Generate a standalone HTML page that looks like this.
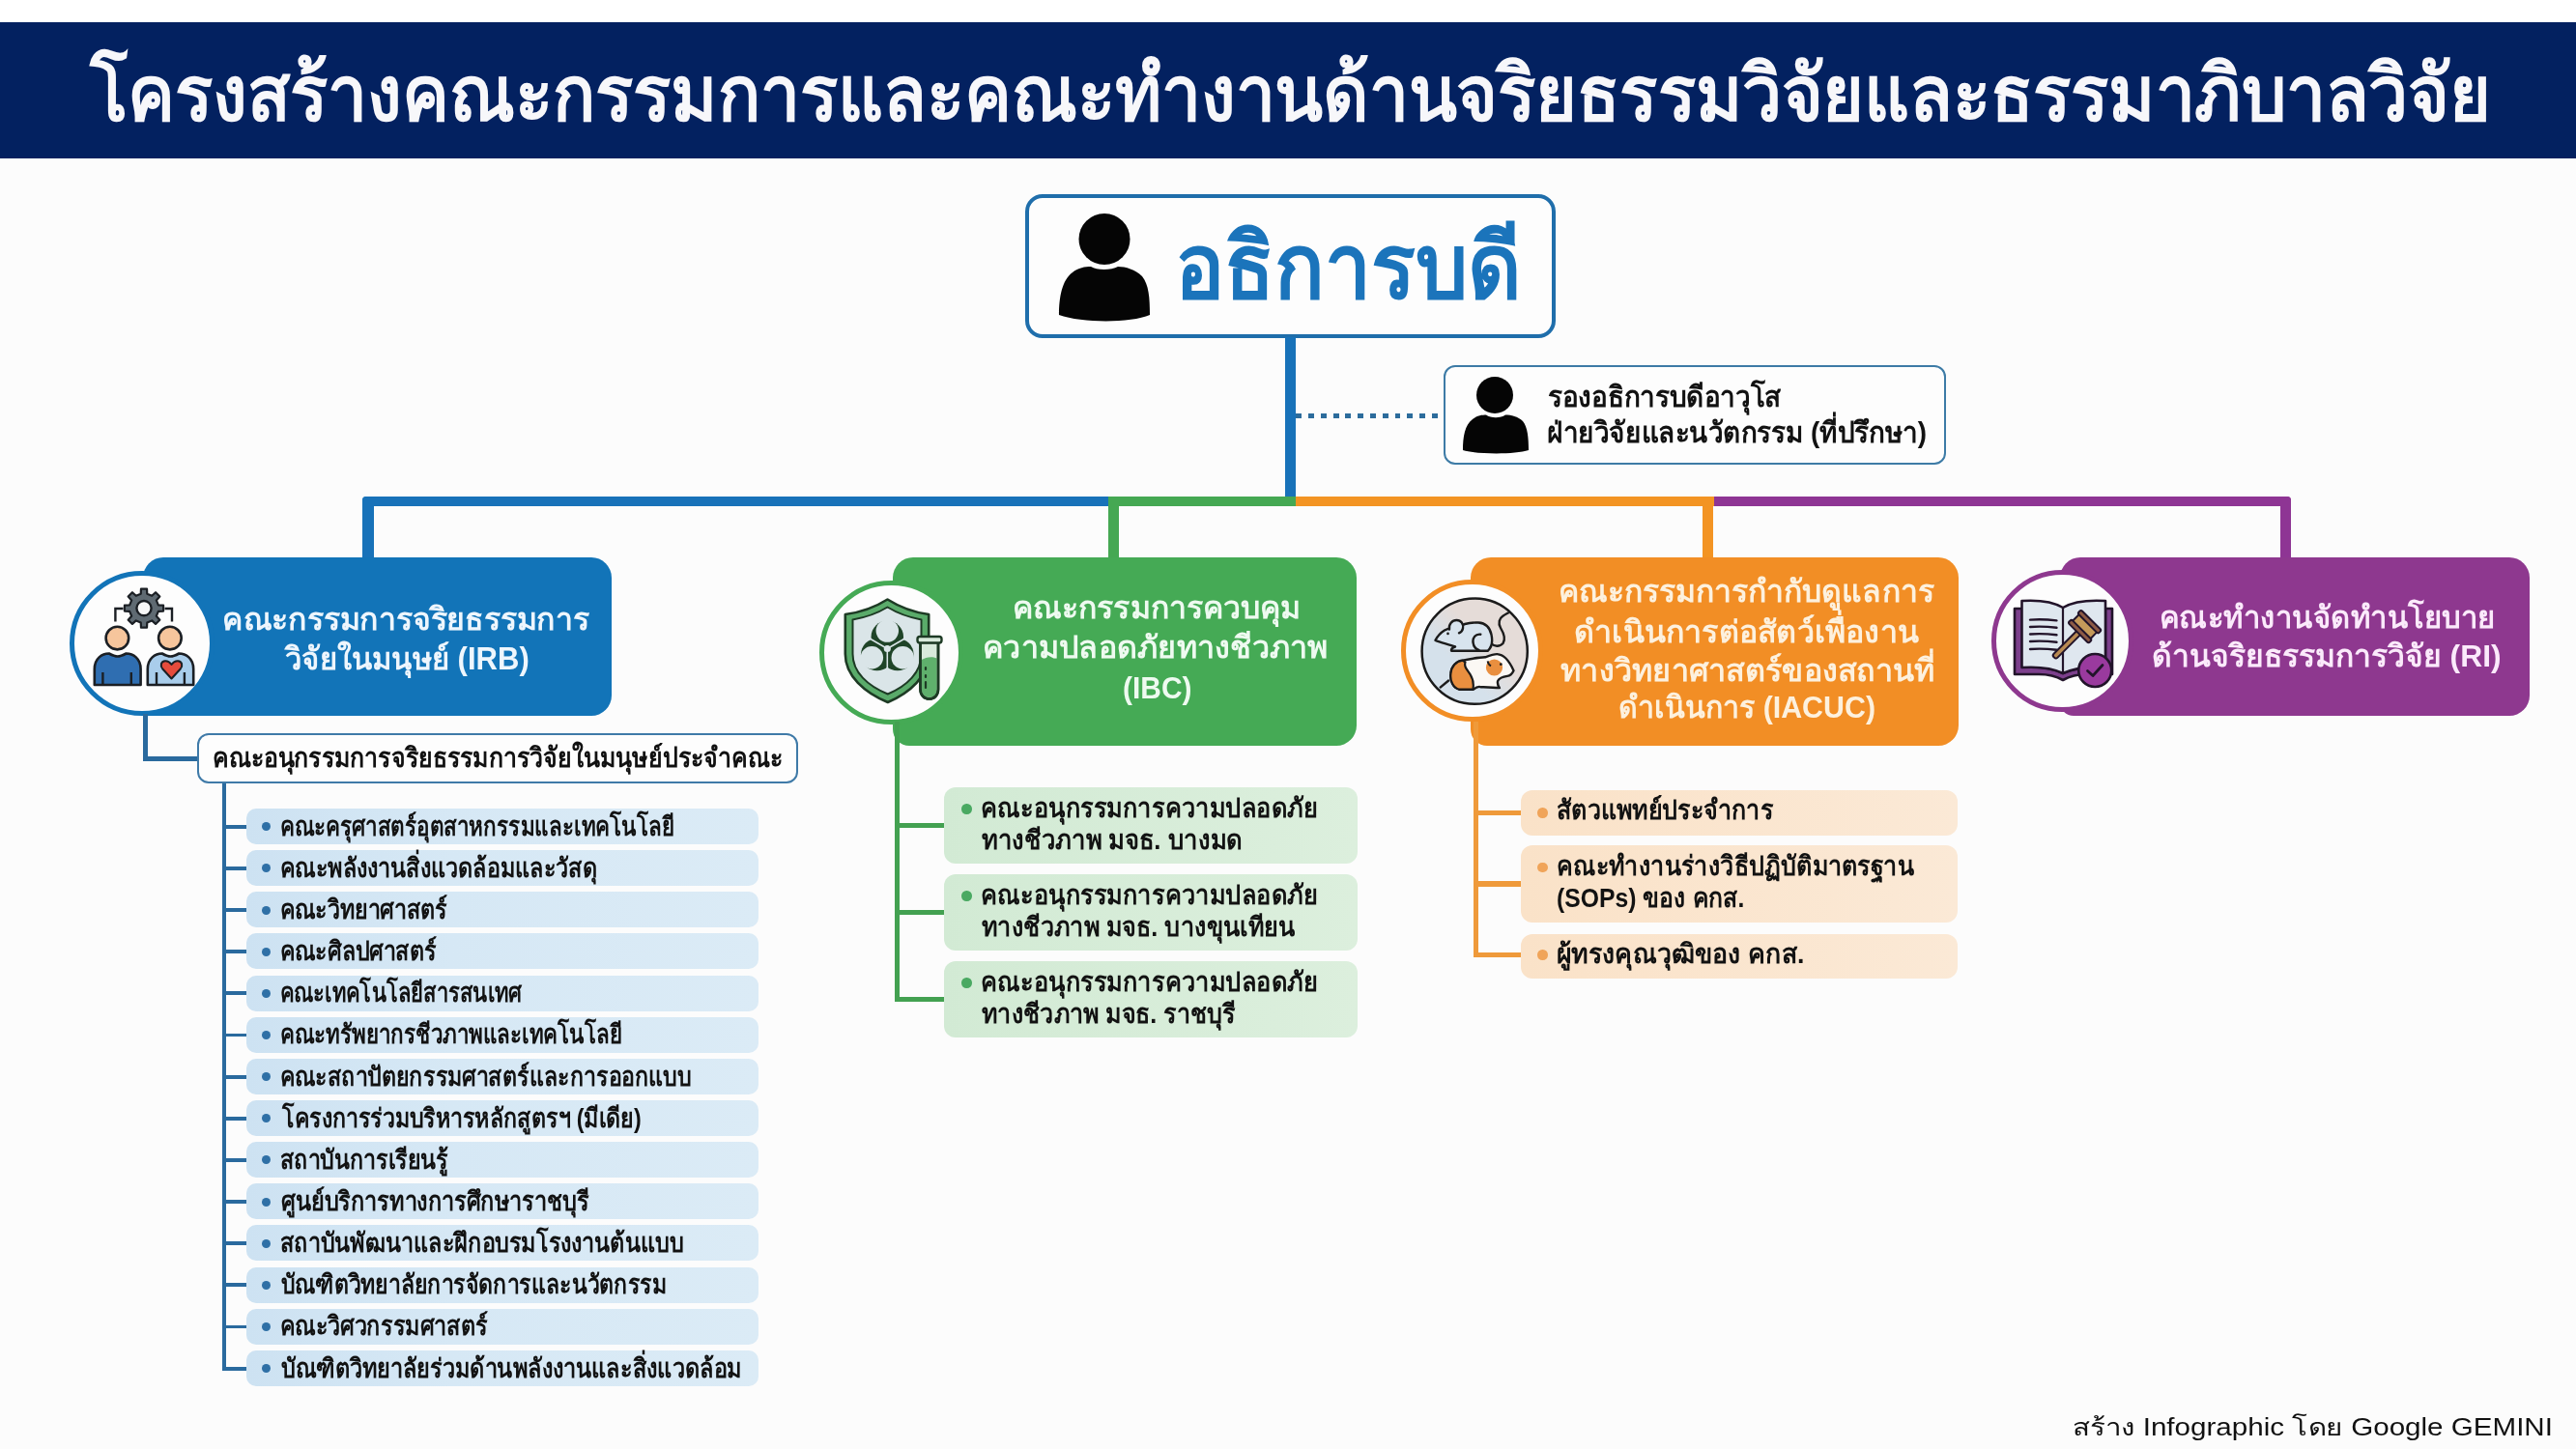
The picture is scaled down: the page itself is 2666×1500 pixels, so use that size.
<!DOCTYPE html>
<html><head><meta charset="utf-8"><style>
html,body{margin:0;padding:0;}
body{width:2666px;height:1500px;position:relative;overflow:hidden;background:#fcfcfc;font-family:'Liberation Sans', sans-serif;}
.a{position:absolute;}
.t{position:absolute;white-space:nowrap;transform-origin:0 0;}
</style></head><body>
<div class="a" style="left:0px;top:0px;width:2666px;height:23px;background:#ffffff"></div>
<div class="a" style="left:0px;top:23px;width:2666px;height:141px;background:#032160"></div>
<div class="a" style="left:1061px;top:201px;width:549px;height:149px;box-sizing:border-box;border:4px solid #1f6eab;border-radius:18px;background:#fdfdfd"></div>
<svg class="a" style="left:1090px;top:215px" width="110" height="125" viewBox="0 0 110 125"><circle cx="53" cy="32.5" r="26.5" fill="#050505"/><path d="M6 111 C6 93 9 75 20 67 C26 62 33 61 39 61 C45 65 60 65 67 61 C75 61 85 64 92 71 C99 80 100 93 100 111 C80 119.5 30 119.5 6 111 Z" fill="#050505"/></svg>
<div class="a" style="left:1330px;top:349px;width:11px;height:175px;background:#1872b9"></div>
<div class="a" style="left:1341.4px;top:427.6px;width:5.8px;height:5.6px;background:#2c6c9c"></div>
<div class="a" style="left:1354.17px;top:427.6px;width:5.8px;height:5.6px;background:#2c6c9c"></div>
<div class="a" style="left:1366.94px;top:427.6px;width:5.8px;height:5.6px;background:#2c6c9c"></div>
<div class="a" style="left:1379.71px;top:427.6px;width:5.8px;height:5.6px;background:#2c6c9c"></div>
<div class="a" style="left:1392.48px;top:427.6px;width:5.8px;height:5.6px;background:#2c6c9c"></div>
<div class="a" style="left:1405.25px;top:427.6px;width:5.8px;height:5.6px;background:#2c6c9c"></div>
<div class="a" style="left:1418.02px;top:427.6px;width:5.8px;height:5.6px;background:#2c6c9c"></div>
<div class="a" style="left:1430.79px;top:427.6px;width:5.8px;height:5.6px;background:#2c6c9c"></div>
<div class="a" style="left:1443.56px;top:427.6px;width:5.8px;height:5.6px;background:#2c6c9c"></div>
<div class="a" style="left:1456.33px;top:427.6px;width:5.8px;height:5.6px;background:#2c6c9c"></div>
<div class="a" style="left:1469.1px;top:427.6px;width:5.8px;height:5.6px;background:#2c6c9c"></div>
<div class="a" style="left:1481.87px;top:427.6px;width:5.8px;height:5.6px;background:#2c6c9c"></div>
<div class="a" style="left:1493.5px;top:378px;width:520.2px;height:103px;box-sizing:border-box;border:2.5px solid #3d7ba6;border-radius:12px;background:#fdfdfd"></div>
<svg class="a" style="left:1510px;top:385px" width="80" height="90" viewBox="0 0 80 90"><circle cx="37" cy="24" r="19" fill="#050505"/><path d="M4 81 C4 67 6 55 14 49 C19 45 24 44.5 28 44.5 C33 48 43 48 48 44.5 C54 44.5 61 46 66 51 C71 57 72 68 72 81 C58 85.5 20 85.5 4 81 Z" fill="#050505"/></svg>
<div class="a" style="left:375px;top:513.5px;width:772px;height:10.5px;background:#1872b9;border-top-left-radius:4px"></div>
<div class="a" style="left:1147px;top:513.5px;width:194px;height:10.5px;background:#45a853"></div>
<div class="a" style="left:1341px;top:513.5px;width:432.5px;height:10.5px;background:#f39423"></div>
<div class="a" style="left:1773.5px;top:513.5px;width:597.2px;height:10.5px;background:#8e3594;border-top-right-radius:4px"></div>
<div class="a" style="left:375px;top:513.5px;width:11.6px;height:66px;background:#1872b9;border-top-left-radius:4px"></div>
<div class="a" style="left:1147.3px;top:513.5px;width:10.7px;height:66px;background:#45a853"></div>
<div class="a" style="left:1762.4px;top:513.5px;width:11.1px;height:66px;background:#f39423"></div>
<div class="a" style="left:2360.4px;top:513.5px;width:10.3px;height:66px;background:#8e3594;border-top-right-radius:4px"></div>
<div class="a" style="left:147.5px;top:577px;width:485.5px;height:164px;background:#1274b8;border-radius:21px 21px 21px 0"></div>
<div class="a" style="left:924px;top:577px;width:480px;height:195px;background:#45aa55;border-radius:21px 21px 21px 17px"></div>
<div class="a" style="left:1522px;top:577px;width:505px;height:195px;background:#f28e25;border-radius:21px 21px 21px 17px"></div>
<div class="a" style="left:2132px;top:577px;width:486px;height:164px;background:#8e388f;border-radius:21px 21px 21px 14px"></div>
<div class="a" style="left:72.2px;top:590.5px;width:150px;height:150px;box-sizing:border-box;border:5.5px solid #1274b8;border-radius:50%;background:#fdfdfd"></div>
<div class="a" style="left:847.8px;top:600.5px;width:149px;height:149px;box-sizing:border-box;border:5.5px solid #45aa55;border-radius:50%;background:#fdfdfd"></div>
<div class="a" style="left:1449.7px;top:599.5px;width:147px;height:147px;box-sizing:border-box;border:5.5px solid #f28e25;border-radius:50%;background:#fdfdfd"></div>
<div class="a" style="left:2060.5px;top:589.5px;width:147px;height:147px;box-sizing:border-box;border:5.5px solid #8e388f;border-radius:50%;background:#fdfdfd"></div>
<div class="a" style="left:148px;top:739px;width:5px;height:49px;background:#2a6a9e"></div>
<div class="a" style="left:148px;top:783px;width:57px;height:5px;background:#2a6a9e"></div>
<div class="a" style="left:204px;top:758.5px;width:621.6px;height:52.5px;box-sizing:border-box;border:2.5px solid #3f7aa8;border-radius:12px;background:#fdfdfd"></div>
<div class="a" style="left:229.8px;top:811px;width:3.9px;height:608px;background:#2a6a9e"></div>
<div class="a" style="left:229.8px;top:853.9px;width:26px;height:3.8px;background:#2a6a9e"></div>
<div class="a" style="left:255px;top:837.0px;width:529.7px;height:37px;border-radius:10px;background:linear-gradient(90deg,#cde2f2 0%,#d6e8f5 40%,#dbebf6 100%)"></div>
<div class="a" style="left:270.9px;top:851.3px;width:9px;height:9px;border-radius:50%;background:#2f70a6"></div>
<div class="a" style="left:229.8px;top:897.04px;width:26px;height:3.8px;background:#2a6a9e"></div>
<div class="a" style="left:255px;top:880.14px;width:529.7px;height:37px;border-radius:10px;background:linear-gradient(90deg,#cde2f2 0%,#d6e8f5 40%,#dbebf6 100%)"></div>
<div class="a" style="left:270.9px;top:894.44px;width:9px;height:9px;border-radius:50%;background:#2f70a6"></div>
<div class="a" style="left:229.8px;top:940.18px;width:26px;height:3.8px;background:#2a6a9e"></div>
<div class="a" style="left:255px;top:923.28px;width:529.7px;height:37px;border-radius:10px;background:linear-gradient(90deg,#cde2f2 0%,#d6e8f5 40%,#dbebf6 100%)"></div>
<div class="a" style="left:270.9px;top:937.58px;width:9px;height:9px;border-radius:50%;background:#2f70a6"></div>
<div class="a" style="left:229.8px;top:983.32px;width:26px;height:3.8px;background:#2a6a9e"></div>
<div class="a" style="left:255px;top:966.42px;width:529.7px;height:37px;border-radius:10px;background:linear-gradient(90deg,#cde2f2 0%,#d6e8f5 40%,#dbebf6 100%)"></div>
<div class="a" style="left:270.9px;top:980.72px;width:9px;height:9px;border-radius:50%;background:#2f70a6"></div>
<div class="a" style="left:229.8px;top:1026.46px;width:26px;height:3.8px;background:#2a6a9e"></div>
<div class="a" style="left:255px;top:1009.56px;width:529.7px;height:37px;border-radius:10px;background:linear-gradient(90deg,#cde2f2 0%,#d6e8f5 40%,#dbebf6 100%)"></div>
<div class="a" style="left:270.9px;top:1023.86px;width:9px;height:9px;border-radius:50%;background:#2f70a6"></div>
<div class="a" style="left:229.8px;top:1069.6px;width:26px;height:3.8px;background:#2a6a9e"></div>
<div class="a" style="left:255px;top:1052.7px;width:529.7px;height:37px;border-radius:10px;background:linear-gradient(90deg,#cde2f2 0%,#d6e8f5 40%,#dbebf6 100%)"></div>
<div class="a" style="left:270.9px;top:1067.0px;width:9px;height:9px;border-radius:50%;background:#2f70a6"></div>
<div class="a" style="left:229.8px;top:1112.74px;width:26px;height:3.8px;background:#2a6a9e"></div>
<div class="a" style="left:255px;top:1095.84px;width:529.7px;height:37px;border-radius:10px;background:linear-gradient(90deg,#cde2f2 0%,#d6e8f5 40%,#dbebf6 100%)"></div>
<div class="a" style="left:270.9px;top:1110.14px;width:9px;height:9px;border-radius:50%;background:#2f70a6"></div>
<div class="a" style="left:229.8px;top:1155.88px;width:26px;height:3.8px;background:#2a6a9e"></div>
<div class="a" style="left:255px;top:1138.98px;width:529.7px;height:37px;border-radius:10px;background:linear-gradient(90deg,#cde2f2 0%,#d6e8f5 40%,#dbebf6 100%)"></div>
<div class="a" style="left:270.9px;top:1153.28px;width:9px;height:9px;border-radius:50%;background:#2f70a6"></div>
<div class="a" style="left:229.8px;top:1199.02px;width:26px;height:3.8px;background:#2a6a9e"></div>
<div class="a" style="left:255px;top:1182.12px;width:529.7px;height:37px;border-radius:10px;background:linear-gradient(90deg,#cde2f2 0%,#d6e8f5 40%,#dbebf6 100%)"></div>
<div class="a" style="left:270.9px;top:1196.42px;width:9px;height:9px;border-radius:50%;background:#2f70a6"></div>
<div class="a" style="left:229.8px;top:1242.16px;width:26px;height:3.8px;background:#2a6a9e"></div>
<div class="a" style="left:255px;top:1225.26px;width:529.7px;height:37px;border-radius:10px;background:linear-gradient(90deg,#cde2f2 0%,#d6e8f5 40%,#dbebf6 100%)"></div>
<div class="a" style="left:270.9px;top:1239.56px;width:9px;height:9px;border-radius:50%;background:#2f70a6"></div>
<div class="a" style="left:229.8px;top:1285.3px;width:26px;height:3.8px;background:#2a6a9e"></div>
<div class="a" style="left:255px;top:1268.4px;width:529.7px;height:37px;border-radius:10px;background:linear-gradient(90deg,#cde2f2 0%,#d6e8f5 40%,#dbebf6 100%)"></div>
<div class="a" style="left:270.9px;top:1282.7px;width:9px;height:9px;border-radius:50%;background:#2f70a6"></div>
<div class="a" style="left:229.8px;top:1328.44px;width:26px;height:3.8px;background:#2a6a9e"></div>
<div class="a" style="left:255px;top:1311.54px;width:529.7px;height:37px;border-radius:10px;background:linear-gradient(90deg,#cde2f2 0%,#d6e8f5 40%,#dbebf6 100%)"></div>
<div class="a" style="left:270.9px;top:1325.84px;width:9px;height:9px;border-radius:50%;background:#2f70a6"></div>
<div class="a" style="left:229.8px;top:1371.58px;width:26px;height:3.8px;background:#2a6a9e"></div>
<div class="a" style="left:255px;top:1354.68px;width:529.7px;height:37px;border-radius:10px;background:linear-gradient(90deg,#cde2f2 0%,#d6e8f5 40%,#dbebf6 100%)"></div>
<div class="a" style="left:270.9px;top:1368.98px;width:9px;height:9px;border-radius:50%;background:#2f70a6"></div>
<div class="a" style="left:229.8px;top:1414.72px;width:26px;height:3.8px;background:#2a6a9e"></div>
<div class="a" style="left:255px;top:1397.82px;width:529.7px;height:37px;border-radius:10px;background:linear-gradient(90deg,#cde2f2 0%,#d6e8f5 40%,#dbebf6 100%)"></div>
<div class="a" style="left:270.9px;top:1412.12px;width:9px;height:9px;border-radius:50%;background:#2f70a6"></div>
<div class="a" style="left:926.2px;top:747px;width:4.8px;height:289px;background:#43a151"></div>
<div class="a" style="left:926.2px;top:851.8px;width:51.5px;height:5.2px;background:#43a151"></div>
<div class="a" style="left:977.4px;top:814.7px;width:427.2px;height:79.5px;border-radius:12px;background:linear-gradient(90deg,#d2ead4 0%,#dcefdd 100%)"></div>
<div class="a" style="left:995px;top:832.4px;width:10.5px;height:10.5px;border-radius:50%;background:#4aa962"></div>
<div class="a" style="left:926.2px;top:941.7px;width:51.5px;height:5.2px;background:#43a151"></div>
<div class="a" style="left:977.4px;top:904.6px;width:427.2px;height:79.5px;border-radius:12px;background:linear-gradient(90deg,#d2ead4 0%,#dcefdd 100%)"></div>
<div class="a" style="left:995px;top:922.3px;width:10.5px;height:10.5px;border-radius:50%;background:#4aa962"></div>
<div class="a" style="left:926.2px;top:1031.7px;width:51.5px;height:5.2px;background:#43a151"></div>
<div class="a" style="left:977.4px;top:994.6px;width:427.2px;height:79.5px;border-radius:12px;background:linear-gradient(90deg,#d2ead4 0%,#dcefdd 100%)"></div>
<div class="a" style="left:995px;top:1012.3px;width:10.5px;height:10.5px;border-radius:50%;background:#4aa962"></div>
<div class="a" style="left:1525.4px;top:747px;width:4.9px;height:244px;background:#ef9a3a"></div>
<div class="a" style="left:1525.6px;top:838.7px;width:49px;height:5.2px;background:#ef9a3a"></div>
<div class="a" style="left:1574.4px;top:817.7px;width:451.6px;height:47.1px;border-radius:12px;background:linear-gradient(90deg,#fae2c8 0%,#fbe9d6 100%)"></div>
<div class="a" style="left:1591px;top:836.1px;width:10.5px;height:10.5px;border-radius:50%;background:#f0a459"></div>
<div class="a" style="left:1525.6px;top:912.4px;width:49px;height:5.2px;background:#ef9a3a"></div>
<div class="a" style="left:1574.4px;top:874.9px;width:451.6px;height:80.1px;border-radius:12px;background:linear-gradient(90deg,#fae2c8 0%,#fbe9d6 100%)"></div>
<div class="a" style="left:1591px;top:892.8px;width:10.5px;height:10.5px;border-radius:50%;background:#f0a459"></div>
<div class="a" style="left:1525.6px;top:985.9px;width:49px;height:5.2px;background:#ef9a3a"></div>
<div class="a" style="left:1574.4px;top:966.5px;width:451.6px;height:46.1px;border-radius:12px;background:linear-gradient(90deg,#fae2c8 0%,#fbe9d6 100%)"></div>
<div class="a" style="left:1591px;top:983.3px;width:10.5px;height:10.5px;border-radius:50%;background:#f0a459"></div>
<svg class="a" style="left:73px;top:591px" width="150" height="150" viewBox="73 591 150 150"><path d="M119.4 643.5 V630 H127.5 M178 643.5 V630 H170.5" fill="none" stroke="#1b1f24" stroke-width="2.4"/><path d="M163.85 626.34 L169.07 626.58 L169.07 632.62 L163.85 632.86 L161.80 637.79 L165.33 641.66 L161.06 645.93 L157.19 642.40 L152.26 644.45 L152.02 649.67 L145.98 649.67 L145.74 644.45 L140.81 642.40 L136.94 645.93 L132.67 641.66 L136.20 637.79 L134.15 632.86 L128.93 632.62 L128.93 626.58 L134.15 626.34 L136.20 621.41 L132.67 617.54 L136.94 613.27 L140.81 616.80 L145.74 614.75 L145.98 609.53 L152.02 609.53 L152.26 614.75 L157.19 616.80 L161.06 613.27 L165.33 617.54 L161.80 621.41 Z" fill="#5f6a72" stroke="#1b1f24" stroke-width="2.2" stroke-linejoin="round"/><circle cx="149" cy="629.6" r="7.6" fill="#f8f8f8" stroke="#1b1f24" stroke-width="2.4"/><path d="M97.8 709 V692.5 C97.8 681.5 105.8 676.5 112.8 676.5 C115.69999999999999 678.0 118.69999999999999 679.5 121.69999999999999 679.5 C124.69999999999999 679.5 127.69999999999999 678.0 130.6 676.5 C137.6 676.5 145.6 681.5 145.6 692.5 V709 Z" fill="#2f6eb1" stroke="#1b1f24" stroke-width="2.6" stroke-linejoin="round"/><path d="M106.4 696 V709 M135.8 696 V709" stroke="#1b1f24" stroke-width="2.4"/><circle cx="121.4" cy="660.6" r="11.8" fill="#f6c59c" stroke="#1b1f24" stroke-width="2.6"/><path d="M152.8 709 V692.5 C152.8 681.5 160.8 676.5 167.8 676.5 C170.5 678.0 173.5 679.5 176.5 679.5 C179.5 679.5 182.5 678.0 185.2 676.5 C192.2 676.5 200.2 681.5 200.2 692.5 V709 Z" fill="#a9cdeb" stroke="#1b1f24" stroke-width="2.6" stroke-linejoin="round"/><path d="M162 696 V709 M190.9 696 V709" stroke="#1b1f24" stroke-width="2.4"/><circle cx="175.9" cy="660.6" r="11.8" fill="#f6c59c" stroke="#1b1f24" stroke-width="2.6"/><path d="M177.5 702.5 L168.3 692.5 C165.5 689 166.5 684.5 171 684.2 C174 684 176 686 177.5 688 C179 686 181 684 184 684.2 C188.5 684.5 189.5 689 186.7 692.5 Z" fill="#e54b3c" stroke="#1b1f24" stroke-width="2" stroke-linejoin="round"/></svg>
<svg class="a" style="left:847px;top:598px" width="150" height="150" viewBox="847 598 150 150"><path d="M918.5 620.5 C905 629 890 634 874.8 636 L874.8 677 C874.8 700 895 717 918.8 727 C942 717 961 700 961.2 677 L961.2 636 C946 634 932 629 918.5 620.5 Z" fill="#5aab6a" stroke="#1d3a24" stroke-width="2.6" stroke-linejoin="round"/><path d="M918.5 628.5 C907 635.5 894 639.5 882.5 641.5 L882.5 677 C882.5 696 898 710 918.8 718.5 C939 710 953.5 696 953.5 677 L953.5 641.5 C943 639.5 930 635.5 918.5 628.5 Z" fill="#dae5e8" stroke="#1d3a24" stroke-width="2" stroke-linejoin="round"/><g><defs><mask id="bh918" maskUnits="userSpaceOnUse" x="887.3" y="640.5" width="62" height="62"><rect x="887.3" y="640.5" width="62" height="62" fill="black"/><circle cx="918.30" cy="659.23" r="16.73" fill="white"/><circle cx="928.93" cy="677.63" r="16.73" fill="white"/><circle cx="907.67" cy="677.63" r="16.73" fill="white"/><circle cx="918.3" cy="671.5" r="14.50" fill="none" stroke="white" stroke-width="2.90"/><circle cx="918.30" cy="653.10" r="11.71" fill="black"/><line x1="918.30" y1="671.50" x2="918.30" y2="704.96" stroke="black" stroke-width="1.56"/><circle cx="934.24" cy="680.70" r="11.71" fill="black"/><line x1="918.30" y1="671.50" x2="889.32" y2="654.77" stroke="black" stroke-width="1.56"/><circle cx="902.36" cy="680.70" r="11.71" fill="black"/><line x1="918.30" y1="671.50" x2="947.28" y2="654.77" stroke="black" stroke-width="1.56"/><circle cx="918.3" cy="671.5" r="3.57" fill="black"/></mask></defs><rect x="887.3" y="640.5" width="62" height="62" fill="#1f4428" mask="url(#bh918)"/></g><path d="M952.5 665 V713.5 C952.5 719.5 956.5 723.5 961.8 723.5 C967 723.5 971 719.5 971 713.5 V665 Z" fill="#d8eadb" stroke="#1d3a24" stroke-width="2.6"/><path d="M953.8 683 C958 681 963 679 969.7 681.5 V713.5 C969.7 718.5 966.5 722 961.8 722 C957 722 953.8 718.5 953.8 713.5 Z" fill="#5fb06c"/><path d="M952.5 665 V713.5 C952.5 719.5 956.5 723.5 961.8 723.5 C967 723.5 971 719.5 971 713.5 V665" fill="none" stroke="#1d3a24" stroke-width="2.6"/><rect x="949.5" y="659" width="25" height="6.5" rx="2.5" fill="#d8eadb" stroke="#1d3a24" stroke-width="2.4"/><path d="M958 691 V693 M958 699 V701 M958 706 V712" stroke="#1d3a24" stroke-width="2.2" stroke-linecap="round"/></svg>
<svg class="a" style="left:1448px;top:598px" width="150" height="150" viewBox="1448 598 150 150"><defs><linearGradient id="iacg" x1="0" y1="1" x2="1" y2="0"><stop offset="0.35" stop-color="#d5e1eb"/><stop offset="0.6" stop-color="#e5dcd8"/></linearGradient></defs><circle cx="1526.2" cy="674.2" r="54.6" fill="url(#iacg)" stroke="#1b1b1b" stroke-width="2.5"/><path d="M1543.7 666.5 C1546 669 1552 670 1555.5 666 C1559 661 1556 655 1553 650 C1550 645 1552 640 1555 638 C1557 636.5 1559 635.5 1560.8 634.5" fill="none" stroke="#1b1b1b" stroke-width="2.4" stroke-linecap="round"/><path d="M1490 712.1 L1499.8 704" fill="none" stroke="#1b1b1b" stroke-width="2.4"/><path d="M1485.5 662.8 C1488 658 1491 655 1495 652.5 C1499 650 1503 651 1507 650 C1512 647 1520 644 1530 644.5 C1538 645 1542 650 1543.5 657 C1545 664 1544 670 1539.7 673.8 L1502.2 673.8 C1501.5 672 1503 670.5 1506 669.5 C1499 667 1491 665 1485.5 662.8 Z" fill="#d8e4ee" stroke="#1b1b1b" stroke-width="2.4" stroke-linejoin="round"/><path d="M1500 651.5 C1499 646 1503 642 1507.5 642 C1512 642 1515 646 1514 650.5 C1513.5 653 1512 654.5 1510 655.3" fill="#d8e4ee" stroke="#1b1b1b" stroke-width="2.4" stroke-linecap="round"/><path d="M1532.3 656.7 C1527 656 1524 660 1524.5 665 C1525 669 1527 672 1530.5 673" fill="none" stroke="#1b1b1b" stroke-width="2.4" stroke-linecap="round"/><circle cx="1498.5" cy="655.9" r="1.3" fill="#1b1b1b"/><path d="M1501.4 697.4 C1502 690 1507 684.5 1513.6 683.6 C1522 682 1530 680.5 1537.2 680.3 C1542 678.5 1546 677 1549.4 677.1 C1556 677.5 1562 684 1566.5 694.2 C1565 697.5 1563 699.5 1560 699.9 C1556 700.5 1552 701.5 1550.2 704.8 C1549.5 707 1550.5 710 1551.9 712.1 C1546 712 1540 711 1533.1 711.3 C1530 710 1528 711 1525 713.7 L1510.3 713.7 C1504 712 1500.5 705 1501.4 697.4 Z" fill="#fbf8f4" stroke="#1b1b1b" stroke-width="2.4" stroke-linejoin="round"/><path d="M1513.6 683.6 C1507 684.5 1502 690 1501.4 697.4 C1500.5 705 1504 712 1510.3 713.7 L1524.5 713.3 C1525.5 707 1524 702 1521.5 698 C1518 693 1515 690 1516.5 685.5 Z" fill="#e98f3f" stroke="#1b1b1b" stroke-width="2.2" stroke-linejoin="round"/><circle cx="1546.5" cy="691" r="8.6" fill="#e98f3f"/><path d="M1539.7 684.4 C1540 687 1541.5 688.5 1543 689.3" fill="none" stroke="#1b1b1b" stroke-width="2"/><circle cx="1553.3" cy="687.7" r="1.4" fill="#1b1b1b"/></svg>
<svg class="a" style="left:2060px;top:589px" width="150" height="150" viewBox="2060 589 150 150"><path d="M2085 630 H2093 V690 C2108 690 2125 692 2135 697 C2145 692 2165 690 2179 690 V630 H2186 V698 H2160 C2150 698 2142 700 2135 704 C2128 700 2120 698 2110 698 H2085 Z" fill="#7c3f8c" stroke="#22142a" stroke-width="2.6" stroke-linejoin="round"/><path d="M2092.5 622 C2108 621 2125 623 2135 629 C2145 623 2162 621 2179 622 V691 C2162 690 2145 692 2135 697 C2125 692 2108 690 2092.5 691 Z" fill="#dfe7ef" stroke="#22142a" stroke-width="2.6" stroke-linejoin="round"/><path d="M2135 629 V697" stroke="#22142a" stroke-width="2.2"/><path d="M2101 641.6 C2110 640.8000000000001 2120 641.3000000000001 2128.5 642.4" fill="none" stroke="#22142a" stroke-width="2.4" stroke-linecap="round"/><path d="M2101 649 C2110 648.2 2120 648.7 2128.5 649.8" fill="none" stroke="#22142a" stroke-width="2.4" stroke-linecap="round"/><path d="M2101 656.5 C2110 655.7 2120 656.2 2128.5 657.3" fill="none" stroke="#22142a" stroke-width="2.4" stroke-linecap="round"/><path d="M2101 664 C2110 663.2 2120 663.7 2128.5 664.8" fill="none" stroke="#22142a" stroke-width="2.4" stroke-linecap="round"/><path d="M2101 672 C2110 671.2 2120 671.7 2128.5 672.8" fill="none" stroke="#22142a" stroke-width="2.4" stroke-linecap="round"/><g transform="translate(2157.6 648.6) rotate(-45)"><rect x="-45" y="-2.8" width="40" height="5.6" rx="2.5" fill="#b98a52" stroke="#22142a" stroke-width="2"/><rect x="-6.5" y="-13" width="13" height="26" rx="1" fill="#c59a5a" stroke="#22142a" stroke-width="2"/><rect x="-9.5" y="-15" width="5" height="30" rx="2" fill="#8d5a45" stroke="#22142a" stroke-width="2"/><rect x="4.5" y="-15" width="5" height="30" rx="2" fill="#8d5a45" stroke="#22142a" stroke-width="2"/></g><circle cx="2168.2" cy="694" r="17" fill="#9a3a9e" stroke="#22142a" stroke-width="2.6"/><path d="M2160.5 694.5 L2166 699.5 L2176 688.5" fill="none" stroke="#22142a" stroke-width="2.8" stroke-linecap="round" stroke-linejoin="round"/></svg>
<div class="t" style="left:92.91px;top:57.29px;font-size:80.7px;line-height:80.7px;font-weight:bold;color:#f7f7fa;transform:scaleX(0.9085)">โครงสร้างคณะกรรมการและคณะทำงานด้านจริยธรรมวิจัยและธรรมาภิบาลวิจัย</div>
<div class="t" style="left:1216.29px;top:231.28px;font-size:92.17px;line-height:92.17px;font-weight:bold;color:#1b74bb;transform:scaleX(0.9284)">อธิการบดี</div>
<div class="t" style="left:1602.00px;top:396.38px;font-size:30.26px;line-height:30.26px;font-weight:bold;color:#121212;transform:scaleX(0.9237)">รองอธิการบดีอาวุโส</div>
<div class="t" style="left:1601.08px;top:433.38px;font-size:30.26px;line-height:30.26px;font-weight:bold;color:#121212;transform:scaleX(0.9211)">ฝ่ายวิจัยและนวัตกรรม (ที่ปรึกษา)</div>
<div class="t" style="left:230.42px;top:624.62px;font-size:32.35px;line-height:32.35px;font-weight:bold;color:#eef6fd;transform:scaleX(0.9893)">คณะกรรมการจริยธรรมการ</div>
<div class="t" style="left:294.96px;top:665.62px;font-size:32.35px;line-height:32.35px;font-weight:bold;color:#eef6fd;transform:scaleX(0.9604)">วิจัยในมนุษย์ (IRB)</div>
<div class="t" style="left:1047.69px;top:614.06px;font-size:31.83px;line-height:31.83px;font-weight:bold;color:#eefaf0;transform:scaleX(1.0044)">คณะกรรมการควบคุม</div>
<div class="t" style="left:1017.37px;top:655.36px;font-size:31.83px;line-height:31.83px;font-weight:bold;color:#eefaf0;transform:scaleX(1.0131)">ความปลอดภัยทางชีวภาพ</div>
<div class="t" style="left:1162.06px;top:697.06px;font-size:31.83px;line-height:31.83px;font-weight:bold;color:#eefaf0;transform:scaleX(0.9407)">(IBC)</div>
<div class="t" style="left:1613.00px;top:596.86px;font-size:31.83px;line-height:31.83px;font-weight:bold;color:#fdf1de;transform:scaleX(1.0016)">คณะกรรมการกำกับดูแลการ</div>
<div class="t" style="left:1628.99px;top:639.06px;font-size:31.83px;line-height:31.83px;font-weight:bold;color:#fdf1de;transform:scaleX(1.0114)">ดำเนินการต่อสัตว์เพื่องาน</div>
<div class="t" style="left:1615.00px;top:678.66px;font-size:31.83px;line-height:31.83px;font-weight:bold;color:#fdf1de;transform:scaleX(1.0147)">ทางวิทยาศาสตร์ของสถานที่</div>
<div class="t" style="left:1674.55px;top:717.06px;font-size:31.83px;line-height:31.83px;font-weight:bold;color:#fdf1de;transform:scaleX(0.9541)">ดำเนินการ (IACUC)</div>
<div class="t" style="left:2235.05px;top:624.06px;font-size:31.83px;line-height:31.83px;font-weight:bold;color:#fbeafb;transform:scaleX(0.9737)">คณะทำงานจัดทำนโยบาย</div>
<div class="t" style="left:2227.00px;top:664.06px;font-size:31.83px;line-height:31.83px;font-weight:bold;color:#fbeafb;transform:scaleX(0.9993)">ด้านจริยธรรมการวิจัย (RI)</div>
<div class="t" style="left:220.12px;top:770.00px;font-size:28.35px;line-height:28.35px;font-weight:bold;color:#111;transform:scaleX(0.8789)">คณะอนุกรรมการจริยธรรมการวิจัยในมนุษย์ประจำคณะ</div>
<div class="t" style="left:290.18px;top:841.74px;font-size:27.48px;line-height:27.48px;font-weight:bold;color:#121212;transform:scaleX(0.8177)">คณะครุศาสตร์อุตสาหกรรมและเทคโนโลยี</div>
<div class="t" style="left:290.15px;top:884.88px;font-size:27.48px;line-height:27.48px;font-weight:bold;color:#121212;transform:scaleX(0.8522)">คณะพลังงานสิ่งแวดล้อมและวัสดุ</div>
<div class="t" style="left:290.15px;top:928.02px;font-size:27.48px;line-height:27.48px;font-weight:bold;color:#121212;transform:scaleX(0.8483)">คณะวิทยาศาสตร์</div>
<div class="t" style="left:290.15px;top:971.16px;font-size:27.48px;line-height:27.48px;font-weight:bold;color:#121212;transform:scaleX(0.8474)">คณะศิลปศาสตร์</div>
<div class="t" style="left:290.20px;top:1014.30px;font-size:27.48px;line-height:27.48px;font-weight:bold;color:#121212;transform:scaleX(0.8010)">คณะเทคโนโลยีสารสนเทศ</div>
<div class="t" style="left:290.18px;top:1057.44px;font-size:27.48px;line-height:27.48px;font-weight:bold;color:#121212;transform:scaleX(0.8155)">คณะทรัพยากรชีวภาพและเทคโนโลยี</div>
<div class="t" style="left:290.16px;top:1100.58px;font-size:27.48px;line-height:27.48px;font-weight:bold;color:#121212;transform:scaleX(0.8449)">คณะสถาปัตยกรรมศาสตร์และการออกแบบ</div>
<div class="t" style="left:291.84px;top:1143.72px;font-size:27.48px;line-height:27.48px;font-weight:bold;color:#121212;transform:scaleX(0.8447)">โครงการร่วมบริหารหลักสูตรฯ (มีเดีย)</div>
<div class="t" style="left:290.15px;top:1186.86px;font-size:27.48px;line-height:27.48px;font-weight:bold;color:#121212;transform:scaleX(0.8454)">สถาบันการเรียนรู้</div>
<div class="t" style="left:291.00px;top:1230.00px;font-size:27.48px;line-height:27.48px;font-weight:bold;color:#121212;transform:scaleX(0.8562)">ศูนย์บริการทางการศึกษาราชบุรี</div>
<div class="t" style="left:290.15px;top:1273.14px;font-size:27.48px;line-height:27.48px;font-weight:bold;color:#121212;transform:scaleX(0.8512)">สถาบันพัฒนาและฝึกอบรมโรงงานต้นแบบ</div>
<div class="t" style="left:291.00px;top:1316.28px;font-size:27.48px;line-height:27.48px;font-weight:bold;color:#121212;transform:scaleX(0.8402)">บัณฑิตวิทยาลัยการจัดการและนวัตกรรม</div>
<div class="t" style="left:290.15px;top:1359.42px;font-size:27.48px;line-height:27.48px;font-weight:bold;color:#121212;transform:scaleX(0.8518)">คณะวิศวกรรมศาสตร์</div>
<div class="t" style="left:291.00px;top:1402.56px;font-size:27.48px;line-height:27.48px;font-weight:bold;color:#121212;transform:scaleX(0.8559)">บัณฑิตวิทยาลัยร่วมด้านพลังงานและสิ่งแวดล้อม</div>
<div class="t" style="left:1015.09px;top:823.14px;font-size:27.83px;line-height:27.83px;font-weight:bold;color:#121212;transform:scaleX(0.9116)">คณะอนุกรรมการความปลอดภัย</div>
<div class="t" style="left:1016.00px;top:856.14px;font-size:27.83px;line-height:27.83px;font-weight:bold;color:#121212;transform:scaleX(0.9206)">ทางชีวภาพ มจธ. บางมด</div>
<div class="t" style="left:1015.09px;top:913.04px;font-size:27.83px;line-height:27.83px;font-weight:bold;color:#121212;transform:scaleX(0.9116)">คณะอนุกรรมการความปลอดภัย</div>
<div class="t" style="left:1016.00px;top:946.04px;font-size:27.83px;line-height:27.83px;font-weight:bold;color:#121212;transform:scaleX(0.9045)">ทางชีวภาพ มจธ. บางขุนเทียน</div>
<div class="t" style="left:1015.09px;top:1003.04px;font-size:27.83px;line-height:27.83px;font-weight:bold;color:#121212;transform:scaleX(0.9116)">คณะอนุกรรมการความปลอดภัย</div>
<div class="t" style="left:1016.00px;top:1036.04px;font-size:27.83px;line-height:27.83px;font-weight:bold;color:#121212;transform:scaleX(0.9001)">ทางชีวภาพ มจธ. ราชบุรี</div>
<div class="t" style="left:1611.10px;top:825.44px;font-size:27.83px;line-height:27.83px;font-weight:bold;color:#121212;transform:scaleX(0.9008)">สัตวแพทย์ประจำการ</div>
<div class="t" style="left:1611.10px;top:883.24px;font-size:27.83px;line-height:27.83px;font-weight:bold;color:#121212;transform:scaleX(0.9000)">คณะทำงานร่างวิธีปฏิบัติมาตรฐาน</div>
<div class="t" style="left:1611.11px;top:915.64px;font-size:27.83px;line-height:27.83px;font-weight:bold;color:#121212;transform:scaleX(0.8879)">(SOPs) ของ คกส.</div>
<div class="t" style="left:1611.04px;top:974.44px;font-size:27.83px;line-height:27.83px;font-weight:bold;color:#121212;transform:scaleX(0.9587)">ผู้ทรงคุณวุฒิของ คกส.</div>
<div class="t" style="left:2144.83px;top:1464.65px;font-size:25.22px;line-height:25.22px;font-weight:normal;color:#111;transform:scaleX(1.1726)">สร้าง Infographic โดย Google GEMINI</div>
<script>
(function(){
  try {
    var T=[[92, 2573], [1220, 1570], [1602, 1844], [1602, 1993], [232.4, 611.3], [294, 547], [1049.7, 1344], [1019.4, 1374], [1163, 1233], [1615, 2001.6], [1630, 1986], [1615, 2001.6], [1675.5, 1940], [2237, 2580.7], [2228, 2588], [221, 809], [291, 697.4], [291, 617.4], [291, 463.2], [291, 452], [291, 540.9], [291, 643.3], [291, 714.3], [291, 662.5], [291, 464.3], [291, 609.5], [291, 706.4], [291, 688.4], [291, 504.8], [291, 766], [1016, 1362.4], [1016, 1285], [1016, 1362.4], [1016, 1340], [1016, 1362.4], [1016, 1279], [1612, 1835.4], [1612, 1981], [1612, 1804], [1612, 1865.8], [2146, 2639.4]];
    var els=document.querySelectorAll('.t');
    if(els.length!==T.length) return;
    var c=document.createElement('canvas').getContext('2d');
    for(var i=0;i<els.length;i++){
      var e=els[i], cs=getComputedStyle(e);
      c.font=cs.fontWeight+' '+cs.fontSize+' '+cs.fontFamily;
      var m=c.measureText(e.textContent);
      var w=m.actualBoundingBoxLeft+m.actualBoundingBoxRight;
      if(!(w>0)) continue;
      var s=(T[i][1]-T[i][0])/w;
      if(s<0.5||s>2) continue;
      e.style.left=(T[i][0]+m.actualBoundingBoxLeft*s)+'px';
      e.style.transform='scaleX('+s+')';
    }
  } catch(err) {}
})();
</script>
</body></html>
